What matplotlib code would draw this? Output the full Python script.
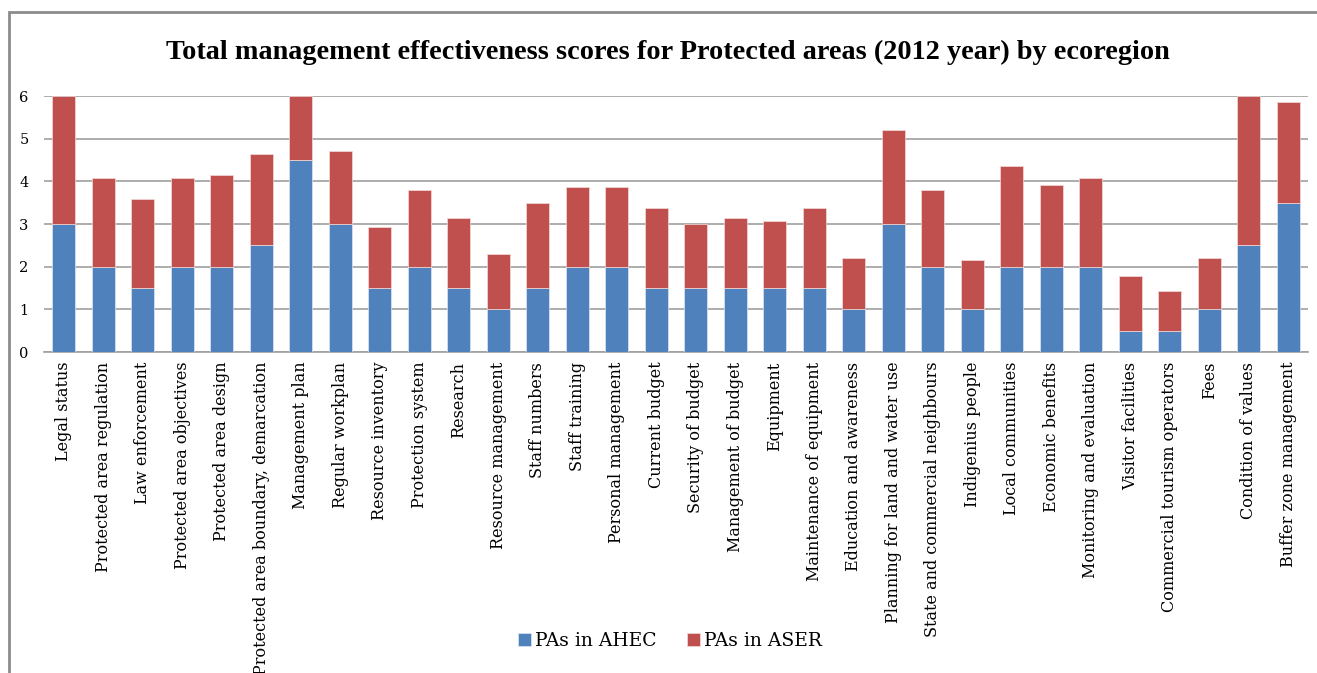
#!/usr/bin/env python3
"""Total management effectiveness scores for Protected areas (2012) - stacked bars."""

import numpy as np
import matplotlib
matplotlib.use('Agg')
import matplotlib.pyplot as plt
from matplotlib.patches import Rectangle

categories = [
    'Legal status', 'Protected area regulation', 'Law enforcement',
    'Protected area objectives', 'Protected area design',
    'Protected area boundary, demarcation', 'Management plan',
    'Regular workplan', 'Resource inventory', 'Protection system',
    'Research', 'Resource management', 'Staff numbers', 'Staff training',
    'Personal management', 'Current budget', 'Security of budget',
    'Management of budget', 'Equipment', 'Maintenance of equipment',
    'Education and awareness', 'Planning for land and water use',
    'State and commercial neighbours', 'Indigenius people',
    'Local communities', 'Economic benefits', 'Monitoring and evaluation',
    'Visitor facilities', 'Commercial tourism operators', 'Fees',
    'Condition of values', 'Buffer zone management',
]

ahec = [3.0, 2.0, 1.5, 2.0, 2.0, 2.5, 4.5, 3.0, 1.5, 2.0,
        1.5, 1.0, 1.5, 2.0, 2.0, 1.5, 1.5, 1.5, 1.5, 1.5,
        1.0, 3.0, 2.0, 1.0, 2.0, 2.0, 2.0, 0.5, 0.5, 1.0,
        2.5, 3.5]

totals = [6.0, 4.08, 3.59, 4.08, 4.15, 4.64, 6.0, 4.70, 2.93, 3.79,
          3.13, 2.29, 3.50, 3.86, 3.86, 3.37, 3.01, 3.13, 3.06, 3.37,
          2.21, 5.20, 3.79, 2.15, 4.35, 3.92, 4.08, 1.79, 1.42, 2.21,
          6.0, 5.86]

aser = [round(t - a, 2) for t, a in zip(totals, ahec)]

series_names = ['PAs in AHEC', 'PAs in ASER']
y_ticks = [0, 1, 2, 3, 4, 5, 6]

BLUE = '#4F81BD'
RED = '#C0504D'
SERIF = 'DejaVu Serif'


def main():
    fig = plt.figure(figsize=(13.17, 6.73), dpi=100)
    ax = fig.add_axes([44 / 1317, 1 - 352 / 673, 1264 / 1317, 256 / 673])

    x = np.arange(len(categories))
    ax.bar(x, ahec, width=0.58, color=BLUE, edgecolor='#dde6f2', linewidth=0.5,
           label=series_names[0], zorder=3)
    ax.bar(x, aser, width=0.58, bottom=ahec, color=RED, edgecolor='#f2dcdb',
           linewidth=0.5, label=series_names[1], zorder=3)

    ax.set_xlim(-0.5, len(categories) - 0.5)
    ax.set_ylim(0, 6)
    ax.set_yticks(y_ticks)
    ax.set_yticklabels([str(v) for v in y_ticks], family=SERIF, fontsize=10.5)
    ax.yaxis.grid(True, color='#a0a0a0', linewidth=1.2, zorder=0)
    ax.set_axisbelow(True)
    ax.tick_params(axis='y', length=0, pad=11)
    ax.tick_params(axis='x', length=0, pad=7)
    ax.set_xticks(x)
    ax.set_xticklabels(categories, rotation=90, family=SERIF, fontsize=11.5,
                       ha='center', va='top')
    for s in ['left', 'right', 'top']:
        ax.spines[s].set_visible(False)
    ax.spines['bottom'].set_color('#a0a0a0')
    ax.spines['bottom'].set_linewidth(1.2)

    fig.text(668 / 1317, 1 - 52 / 673,
             'Total management effectiveness scores for Protected areas (2012 year) by ecoregion',
             family='Liberation Serif', fontweight='bold', fontsize=20.3,
             ha='center', va='center')

    fig.legend(loc='center', bbox_to_anchor=(670 / 1317, 1 - 641 / 673),
               ncol=2, frameon=False, prop={'family': SERIF, 'size': 13.5},
               handlelength=0.7, handleheight=0.7, handletextpad=0.2,
               columnspacing=1.6)

    # outer chart frame (cut off at right and bottom edge of the image)
    fig.patches.append(Rectangle((9 / 1317, -0.1), 1.2, 1 - 12 / 673 + 0.1,
                                 transform=fig.transFigure, fill=False,
                                 edgecolor='#8c8c8c', linewidth=2))

    fig.savefig('out.png', dpi=100)
    plt.close(fig)


if __name__ == '__main__':
    main()
